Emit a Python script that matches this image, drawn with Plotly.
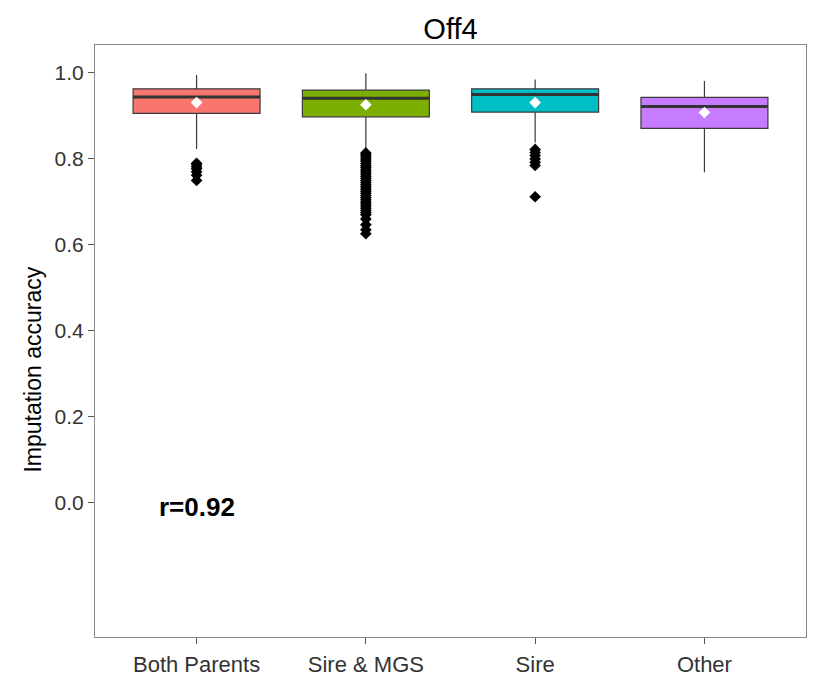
import plotly.graph_objects as go

categories = ["Both Parents", "Sire & MGS", "Sire", "Other"]
q1 = [0.906, 0.898, 0.909, 0.871]
median = [0.944, 0.941, 0.950, 0.922]
q3 = [0.963, 0.960, 0.963, 0.943]
lower_whisker = [0.823, 0.821, 0.838, 0.769]
upper_whisker = [0.995, 0.999, 0.985, 0.981]
means = [0.931, 0.926, 0.931, 0.908]
colors = ["#F8766D", "#7CAE00", "#00BFC4", "#C77CFF"]

outliers = [
    [0.790, 0.787, 0.782, 0.777, 0.770, 0.762, 0.750],
    [0.814, 0.810, 0.805, 0.800, 0.795, 0.790, 0.785, 0.780, 0.775, 0.770,
     0.765, 0.760, 0.755, 0.750, 0.745, 0.740, 0.735, 0.730, 0.725, 0.720,
     0.715, 0.710, 0.705, 0.700, 0.695, 0.690, 0.685, 0.680, 0.675, 0.670,
     0.660, 0.647, 0.635, 0.626],
    [0.822, 0.815, 0.808, 0.800, 0.792, 0.785, 0.712],
    [],
]

fig = go.Figure()
box_w = 0.75
for i, cat in enumerate(categories):
    fig.add_trace(go.Box(
        x=[i], q1=[q1[i]], median=[median[i]], q3=[q3[i]],
        lowerfence=[lower_whisker[i]], upperfence=[upper_whisker[i]],
        width=box_w, fillcolor=colors[i], line=dict(color="#3a3a3a", width=1.2),
        whiskerwidth=0, boxpoints=False, showlegend=False, hoverinfo="skip",
    ))
    # thicker median line
    fig.add_trace(go.Scatter(
        x=[i - box_w / 2, i + box_w / 2], y=[median[i], median[i]],
        mode="lines", line=dict(color="#333333", width=3),
        showlegend=False, hoverinfo="skip",
    ))
    if outliers[i]:
        fig.add_trace(go.Scatter(
            x=[i] * len(outliers[i]), y=outliers[i], mode="markers",
            marker=dict(symbol="diamond", size=9, color="black"),
            showlegend=False, hoverinfo="skip",
        ))
    fig.add_trace(go.Scatter(
        x=[i], y=[means[i]], mode="markers",
        marker=dict(symbol="diamond", size=9, color="white"),
        showlegend=False, hoverinfo="skip",
    ))

fig.add_annotation(x=0, y=-0.01, text="<b>r=0.92</b>", showarrow=False,
                   font=dict(size=26, color="black", family="Liberation Sans, Arial"))

# y-axis title (placed as in reference, slightly below panel centre)
fig.add_annotation(xref="paper", yref="y", x=(33 - 95) / 711, y=0.31,
                   text="Imputation accuracy", textangle=-90, showarrow=False,
                   xanchor="center", yanchor="middle",
                   font=dict(size=23, color="black", family="Liberation Sans, Arial"))

fig.update_layout(
    width=818, height=684,
    margin=dict(l=95, r=12, t=45, b=47),
    paper_bgcolor="white", plot_bgcolor="white",
    font=dict(family="Liberation Sans, Arial", color="#333333"),
    title=dict(text="Off4", x=(95 + 806) / 2 / 818, xanchor="center", y=0.958, yanchor="middle",
               font=dict(size=29, color="black")),
    xaxis=dict(
        range=[-0.6, 3.6], tickmode="array", tickvals=list(range(len(categories))),
        ticktext=categories, showgrid=False, zeroline=False,
        showline=True, mirror=True, linecolor="#888888", linewidth=1,
        ticks="outside", ticklen=6, tickcolor="#555555",
        tickfont=dict(size=22, color="#333333"), ticklabelstandoff=2,
        automargin=False,
    ),
    yaxis=dict(
        range=[-0.312, 1.065], tickmode="array", tickvals=[0, 0.2, 0.4, 0.6, 0.8, 1.0],
        ticktext=["0.0", "0.2", "0.4", "0.6", "0.8", "1.0"],
        showgrid=False, zeroline=False,
        showline=True, mirror=True, linecolor="#888888", linewidth=1,
        ticks="outside", ticklen=6, tickcolor="#555555",
        tickfont=dict(size=21, color="#333333"), automargin=False,
    ),
)

fig.write_html("out.html")
